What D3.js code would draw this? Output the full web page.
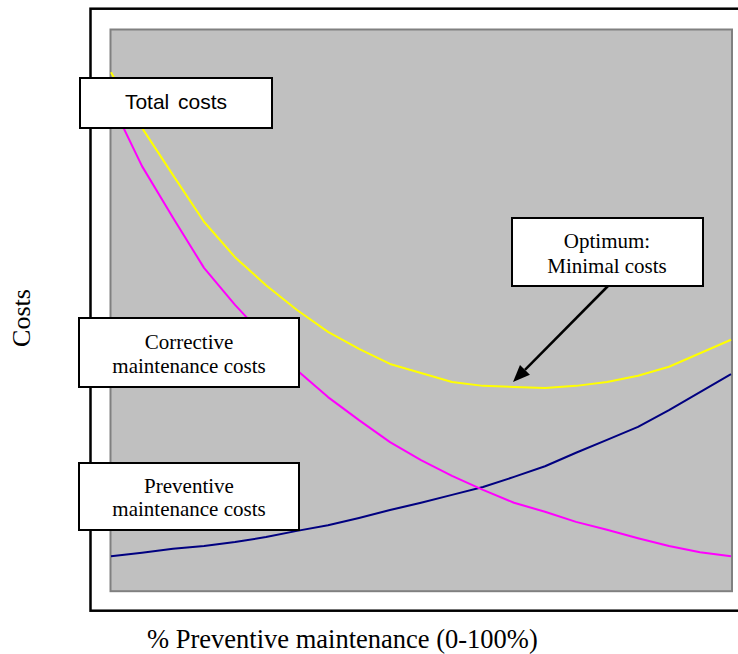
<!DOCTYPE html>
<html>
<head>
<meta charset="utf-8">
<script src="https://cdn.jsdelivr.net/npm/d3@7/dist/d3.min.js"></script>
<style>
  html, body { margin: 0; padding: 0; background: #ffffff; }
  svg { display: block; }
</style>
</head>
<body>
<svg id="chart" width="738" height="654"></svg>
<script>
// ---- Data ----
const preventivePct = [0, 5, 10, 15, 20, 25, 30, 35, 40, 45, 50, 55, 60, 65, 70, 75, 80, 85, 90, 95, 100];
const preventiveCosts = [6.2, 6.8, 7.5, 8.0, 8.7, 9.6, 10.7, 11.7, 13.0, 14.4, 15.7, 17.1, 18.5, 20.3, 22.2, 24.6, 26.9, 29.2, 32.2, 35.4, 38.6];
const correctiveCosts = [87.0, 75.6, 66.4, 57.5, 50.9, 45.0, 39.3, 34.5, 30.4, 26.5, 23.3, 20.5, 18.0, 15.7, 14.1, 12.3, 10.9, 9.4, 8.0, 6.9, 6.2];
const totalCosts = [92.3, 82.4, 74.0, 65.7, 59.4, 54.4, 50.0, 46.1, 43.1, 40.4, 38.8, 37.2, 36.5, 36.3, 36.1, 36.5, 37.2, 38.3, 39.9, 42.3, 44.7];
const seriesNames = ["Total costs", "Corrective maintenance costs", "Preventive maintenance costs"];
const seriesColors = ["#ffff00", "#ff00ff", "#000080"];
const xTitle = "% Preventive maintenance (0-100%)";
const yTitle = "Costs";
const optimumLabel = ["Optimum:", "Minimal costs"];
const optimumPct = 65;

const svg = d3.select("#chart");

// outer chart frame
svg.append("rect")
  .attr("x", 90.5).attr("y", 8.7)
  .attr("width", 700).attr("height", 602)
  .attr("fill", "#ffffff").attr("stroke", "#000").attr("stroke-width", 2.5);

// plot area
const plot = { left: 111, right: 731, top: 29.5, bottom: 591 };
svg.append("rect")
  .attr("x", 110.5).attr("y", 29.5)
  .attr("width", 732 - 110.5).attr("height", 591.2 - 29.5)
  .attr("fill", "#c0c0c0").attr("stroke", "#808080").attr("stroke-width", 2);

const x = d3.scaleLinear().domain([0, 100]).range([plot.left, plot.right]);
const y = d3.scaleLinear().domain([0, 100]).range([591, 29]);

const line = d3.line()
  .x((d, i) => x(preventivePct[i]))
  .y(d => y(d));

const allSeries = [totalCosts, correctiveCosts, preventiveCosts];
[2, 1, 0].forEach(k => {
  svg.append("path")
    .datum(allSeries[k])
    .attr("d", line)
    .attr("fill", "none")
    .attr("stroke", seriesColors[k])
    .attr("stroke-width", 2)
    .attr("stroke-linejoin", "round");
});

function box(x0, y0, w, h) {
  svg.append("rect")
    .attr("x", x0).attr("y", y0).attr("width", w).attr("height", h)
    .attr("fill", "#ffffff").attr("stroke", "#000").attr("stroke-width", 2);
}
function txt(cx, by, s, family, size, extra) {
  const t = svg.append("text")
    .attr("x", cx).attr("y", by)
    .attr("text-anchor", "middle")
    .attr("font-family", family)
    .attr("font-size", size)
    .attr("fill", "#000")
    .text(s);
  if (extra) extra(t);
  return t;
}
const serif = "'Liberation Serif', 'Times New Roman', serif";
const sans = "'Liberation Sans', Arial, sans-serif";

// Total costs
box(80, 78, 192, 50);
txt(176, 109, seriesNames[0], sans, 21, t => t.attr("word-spacing", 3));

// Corrective maintenance costs
box(79, 318, 220, 69);
txt(189, 349, "Corrective", serif, 21);
txt(189, 373, "maintenance costs", serif, 21);

// Preventive maintenance costs
box(79, 463, 220, 67);
txt(189, 493, "Preventive", serif, 21);
txt(189, 516, "maintenance costs", serif, 21);

// Optimum annotation
box(512, 218, 191, 68);
txt(607, 248, optimumLabel[0], serif, 21);
txt(607, 273, optimumLabel[1], serif, 21);

// arrow
const tipX = x(optimumPct) - 1, tipY = y(totalCosts[preventivePct.indexOf(optimumPct)]) - 5;
const startX = 608, startY = 286;
const ang = Math.atan2(tipY - startY, tipX - startX);
const headLen = 17, headW = 7;
const baseX = tipX - headLen * Math.cos(ang), baseY = tipY - headLen * Math.sin(ang);
svg.append("line")
  .attr("x1", startX).attr("y1", startY)
  .attr("x2", baseX).attr("y2", baseY)
  .attr("stroke", "#000").attr("stroke-width", 2.5);
svg.append("path")
  .attr("d", `M${tipX},${tipY} L${baseX + headW * Math.sin(ang)},${baseY - headW * Math.cos(ang)} L${baseX - headW * Math.sin(ang)},${baseY + headW * Math.cos(ang)} Z`)
  .attr("fill", "#000");

// axis titles
txt(147, 648, xTitle, serif, 26.5, t => t.attr("text-anchor", "start"));
svg.append("text")
  .attr("transform", "translate(30,318) rotate(-90)")
  .attr("text-anchor", "middle")
  .attr("font-family", serif)
  .attr("font-size", 26)
  .attr("fill", "#000")
  .text(yTitle);
</script>
</body>
</html>
